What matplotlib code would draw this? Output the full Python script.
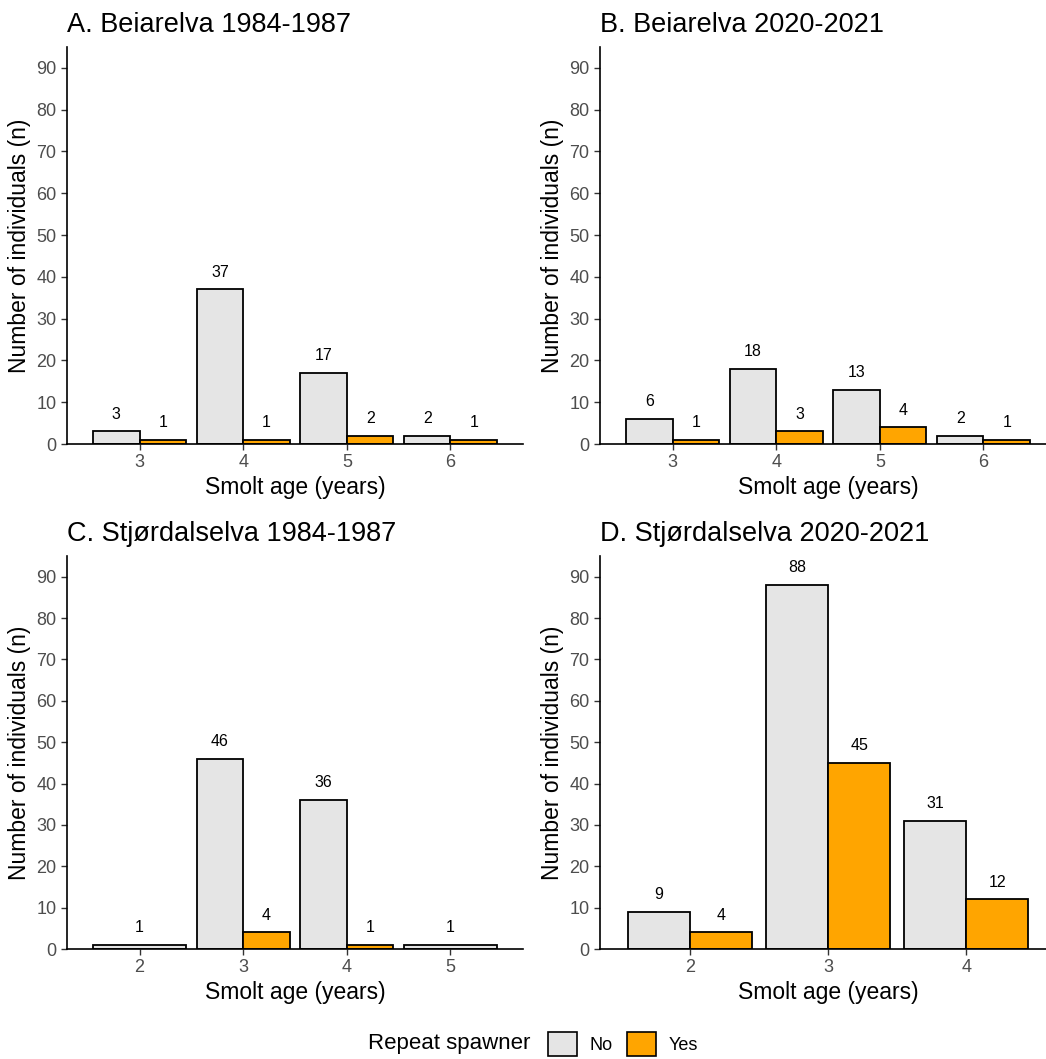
import matplotlib
matplotlib.use("Agg")
import matplotlib.pyplot as plt
from matplotlib.patches import Patch

plt.rcParams["font.family"] = ["Liberation Sans", "DejaVu Sans"]

# smolt ages per panel and counts (None = group absent)
titles = ["A. Beiarelva 1984-1987", "B. Beiarelva 2020-2021",
          "C. Stjørdalselva 1984-1987", "D. Stjørdalselva 2020-2021"]
ages_a = [3, 4, 5, 6]
no_a = [3, 37, 17, 2]
yes_a = [1, 1, 2, 1]
ages_b = [3, 4, 5, 6]
no_b = [6, 18, 13, 2]
yes_b = [1, 3, 4, 1]
ages_c = [2, 3, 4, 5]
no_c = [1, 46, 36, 1]
yes_c = [None, 4, 1, None]
ages_d = [2, 3, 4]
no_d = [9, 88, 31]
yes_d = [4, 45, 12]

panels = [(ages_a, no_a, yes_a), (ages_b, no_b, yes_b),
          (ages_c, no_c, yes_c), (ages_d, no_d, yes_d)]

NO_COL = "#E5E5E5"
YES_COL = "#FFA500"
W, H = 1046, 1059
# axes boxes in pixels: left, top, width, height
boxes = [(67, 47, 456, 397), (600, 47, 456, 397),
         (67, 556, 456, 393), (600, 556, 456, 393)]

fig = plt.figure(figsize=(W / 100, H / 100), dpi=100)


def label(ax, x, y):
    ax.annotate(str(y), (x, y), xytext=(0, 7), textcoords="offset points",
                ha="center", va="bottom", fontsize=11.5)


for (ages, no, yes), title, (l, t, w, h) in zip(panels, titles, boxes):
    ax = fig.add_axes([l / W, 1 - (t + h) / H, w / W, h / H])
    pos = list(range(1, len(ages) + 1))
    for p, n_no, n_yes in zip(pos, no, yes):
        if n_yes is None:
            ax.bar(p, n_no, width=0.9, color=NO_COL, edgecolor="black", linewidth=1.3)
            label(ax, p, n_no)
        else:
            ax.bar(p - 0.225, n_no, width=0.45, color=NO_COL, edgecolor="black", linewidth=1.3)
            ax.bar(p + 0.225, n_yes, width=0.45, color=YES_COL, edgecolor="black", linewidth=1.3)
            label(ax, p - 0.225, n_no)
            label(ax, p + 0.225, n_yes)
    pad = 0.7 if len(ages) == 4 else 0.65
    ax.set_xlim(1 - pad, len(ages) + pad)
    ax.set_ylim(0, 95)
    ax.set_xticks(pos, [str(a) for a in ages])
    ax.set_yticks(range(0, 91, 10))
    ax.tick_params(labelsize=13, labelcolor="#4D4D4D", length=4, width=1, color="#333333")
    for side in ["top", "right"]:
        ax.spines[side].set_visible(False)
    for side in ["left", "bottom"]:
        ax.spines[side].set_linewidth(1.2)
    ax.set_xlabel("Smolt age (years)", fontsize=16.5, labelpad=3)
    ax.set_ylabel("Number of individuals (n)", fontsize=16.5, labelpad=4)
    ax.set_title(title, loc="left", fontsize=19.5, pad=11)

fig.text(368 / W, 1 - 1044 / H, "Repeat spawner", fontsize=16, ha="left", va="center")
handles = [Patch(facecolor=NO_COL, edgecolor="black", linewidth=1.2, label="No"),
           Patch(facecolor=YES_COL, edgecolor="black", linewidth=1.2, label="Yes")]
fig.legend(handles=handles, loc="center left", bbox_to_anchor=(548 / W, 1 - 1044 / H),
           ncol=2, frameon=False, fontsize=13, handlelength=1.6, handleheight=1.6,
           handletextpad=0.7, columnspacing=0.8, borderpad=0, borderaxespad=0)

fig.savefig("out.png", dpi=100)
